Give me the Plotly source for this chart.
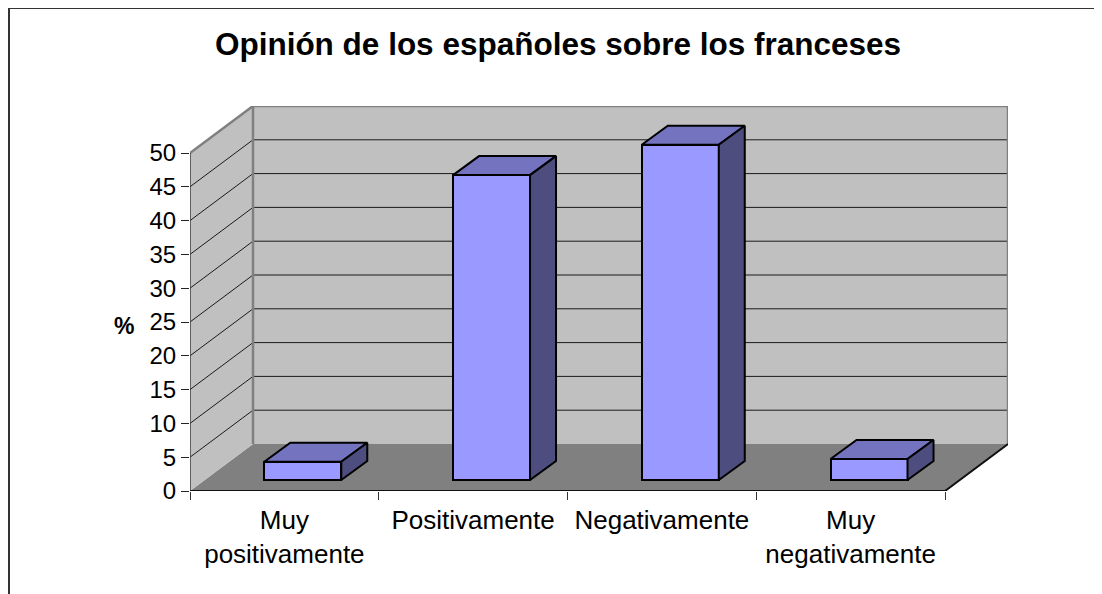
import plotly.graph_objects as go

# ---------------- data ----------------
categories = ["Muy<br>positivamente", "Positivamente", "Negativamente", "Muy<br>negativamente"]
values = [2.7, 45.1, 49.6, 3.1]
y_ticks = [0, 5, 10, 15, 20, 25, 30, 35, 40, 45, 50]
title_text = "Opinión de los españoles sobre los franceses"
y_title = "%"

# ---------------- geometry ----------------
OFF = 8                      # page body margin
W, H = 1102 - OFF, 594 - OFF
UX = 188.75                  # px per category unit
UY = 6.76                    # px per percent
DX = 63 / UX                 # wall depth (x)
DY = 47 / UY                 # wall depth (y)
BX = 18.4 / UX               # bar front-face shift
BY = 11 / UY
BW = 77 / UX                 # bar width
BDX = 26 / UX                # bar depth
BDY = 19 / UY
YMAX = max(y_ticks)
N = len(categories)

X0 = 190 - OFF               # front-left corner (figure px)
Y0 = 491 - OFF               # front zero line (figure px)
L_M = X0
R_M = W - (X0 + (N + DX) * UX)
B_M = H - Y0
T_M = Y0 - (YMAX + DY) * UY
plot_w = W - L_M - R_M
plot_h = H - T_M - B_M

WALL = "#c0c0c0"
FLOOR = "#808080"
EDGE = "#808080"
FRONT = "#9999ff"
TOP = "#7373bf"
SIDE = "#4d4d80"

fig = go.Figure()
shapes = []

# floor
shapes.append(dict(type="path", xref="x", yref="y", layer="below",
                   path=f"M 0 0 L {N} 0 L {N+DX} {DY} L {DX} {DY} Z",
                   fillcolor=FLOOR, line=dict(width=0)))
# left wall
shapes.append(dict(type="path", xref="x", yref="y", layer="below",
                   path=f"M 0 0 L 0 {YMAX} L {DX} {YMAX+DY} L {DX} {DY} Z",
                   fillcolor=WALL, line=dict(width=0)))
# back wall
shapes.append(dict(type="rect", xref="x", yref="y", layer="below",
                   x0=DX, x1=N + DX, y0=DY, y1=YMAX + DY,
                   fillcolor=WALL, line=dict(width=0)))
# gridlines
for t in y_ticks[1:-1]:
    shapes.append(dict(type="line", xref="x", yref="y", layer="below",
                       x0=DX, x1=N + DX, y0=t + DY, y1=t + DY,
                       line=dict(color="#1a1a1a", width=1)))
    shapes.append(dict(type="line", xref="x", yref="y", layer="below",
                       x0=0, x1=DX, y0=t, y1=t + DY,
                       line=dict(color="#1a1a1a", width=1)))

# wall edges (gray)
fig.add_trace(go.Scatter(x=[0, DX, N + DX, N + DX], y=[YMAX, YMAX + DY, YMAX + DY, DY],
                         mode="lines", line=dict(color=EDGE, width=2.5),
                         cliponaxis=False, hoverinfo="skip", showlegend=False))
fig.add_trace(go.Scatter(x=[DX, DX], y=[DY, YMAX + DY],
                         mode="lines", line=dict(color=EDGE, width=2.5),
                         cliponaxis=False, hoverinfo="skip", showlegend=False))
# front axis line
fig.add_trace(go.Scatter(x=[0, 0], y=[0, YMAX], mode="lines",
                         line=dict(color="#404040", width=1.5),
                         cliponaxis=False, hoverinfo="skip", showlegend=False))
# floor front + right edge (black)
fig.add_trace(go.Scatter(x=[0, N, N + DX], y=[0, 0, DY], mode="lines",
                         line=dict(color="#111111", width=2),
                         cliponaxis=False, hoverinfo="skip", showlegend=False))

# bars: front faces
xs = [i + 0.5 + BX for i in range(N)]
fig.add_trace(go.Bar(x=xs, y=values, base=[BY] * N, width=[BW] * N,
                     marker=dict(color=FRONT, line=dict(color="black", width=2)),
                     hoverinfo="skip", showlegend=False))
# bars: top and side faces
for xc, v in zip(xs, values):
    xl, xr = xc - BW / 2, xc + BW / 2
    top = BY + v
    fig.add_trace(go.Scatter(x=[xl, xl + BDX, xr + BDX, xr, xl],
                             y=[top, top + BDY, top + BDY, top, top],
                             mode="lines", fill="toself", fillcolor=TOP,
                             line=dict(color="black", width=2),
                             hoverinfo="skip", showlegend=False))
    fig.add_trace(go.Scatter(x=[xr, xr + BDX, xr + BDX, xr, xr],
                             y=[BY, BY + BDY, top + BDY, top, BY],
                             mode="lines", fill="toself", fillcolor=SIDE,
                             line=dict(color="black", width=2),
                             hoverinfo="skip", showlegend=False))

# outer chart border: left and top edges, ending at the figure edge
bx0 = (1 - L_M) / plot_w
by1 = (Y0 - 0) / plot_h
shapes.append(dict(type="line", xref="paper", yref="paper",
                   x0=bx0, x1=bx0, y0=(Y0 - H) / plot_h, y1=by1,
                   line=dict(color="#333333", width=2)))
shapes.append(dict(type="line", xref="paper", yref="paper",
                   x0=bx0, x1=(W - L_M) / plot_w, y0=by1, y1=by1,
                   line=dict(color="#333333", width=2)))

fig.update_layout(
    width=W, height=H,
    margin=dict(l=L_M, r=R_M, t=T_M, b=B_M, pad=0),
    paper_bgcolor="white", plot_bgcolor="white",
    font=dict(family="Liberation Sans, Arial, sans-serif", color="black"),
    shapes=shapes,
    bargap=0,
    title=dict(text=f"<b>{title_text}</b>", font=dict(size=31.5, color="black"),
               x=(558 - OFF) / W, xref="container", xanchor="center",
               y=1 - (44 - OFF) / H, yref="container", yanchor="middle"),
    annotations=[dict(text=f"<b>{y_title}</b>", xref="paper", yref="paper",
                      x=(124 - 190) / plot_w, y=(491 - 326) / plot_h,
                      showarrow=False, font=dict(size=23, color="black"),
                      xanchor="center", yanchor="middle")],
    xaxis=dict(range=[0, N + DX], showgrid=False, zeroline=False, showline=False,
               tickvals=[i + 0.5 for i in range(N)], ticktext=categories,
               ticks="", tickfont=dict(size=26, color="black"),
               ticklabelstandoff=11,
               minor=dict(tickvals=list(range(N + 1)), ticks="outside",
                          ticklen=8, tickcolor="#333333", tickwidth=1,
                          showgrid=False)),
    yaxis=dict(range=[0, YMAX + DY], showgrid=False, zeroline=False, showline=False,
               tickvals=y_ticks, ticks="outside", ticklen=8, tickcolor="#222222",
               tickwidth=1, tickfont=dict(size=24, color="black")),
)

fig.write_html(
    "out.html",
    config={"displayModeBar": False},
    post_script="document.documentElement.style.overflow='hidden';"
                "document.body.style.overflow='hidden';",
)
